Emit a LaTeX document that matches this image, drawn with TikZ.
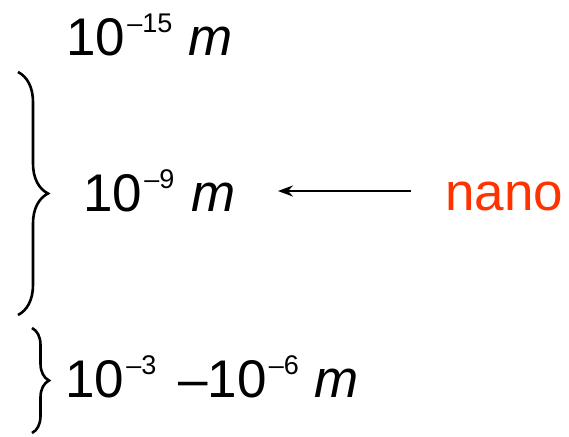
\documentclass[tikz,border=0pt]{standalone}
\usepackage{fontspec}
\setmainfont{Liberation Sans}
\usetikzlibrary{positioning,arrows.meta,decorations.pathreplacing}
\definecolor{nanored}{RGB}{255,51,0}
\newcommand{\pw}[1]{\raisebox{11.5pt}{\fontsize{13.5}{13.5}\selectfont #1}}

\begin{document}
\begin{tikzpicture}[x=0.5pt, y=-0.5pt,
  lbl/.style={inner sep=0pt, anchor=base west, font=\fontsize{26.5}{30}\selectfont},
  brc/.style={decorate, decoration={brace, amplitude=#1}, line width=1.3pt},
  arr/.style={-{Stealth[length=7.5pt, width=5.5pt]}, line width=1.3pt}
]
\useasboundingbox (0,0) rectangle (569,436);
% sizes
\node[lbl] (fifteen) at (66,55) {10\hspace{1pt}\pw{–15}\hspace{8pt}\textit{m}};
\node[lbl] (nine) at (83,211) {10\hspace{1pt}\pw{–9}\hspace{8.5pt}\textit{m}};
\node[lbl] (micro) at (65,397) {10\hspace{1pt}\pw{–3}\hspace{11pt}–10\hspace{1pt}\pw{–6}\hspace{8pt}\textit{m}};
\node[lbl, text=nanored] (nano) at (445,210) {nano};
% braces
\draw[brc=15pt] (18,72) -- (18,315);
\draw[brc=8.5pt] (32,328) -- (32,433);
\draw[arr, shorten <=17pt, shorten >=21pt] ([yshift=2.5pt]nano.west) -- ([yshift=2.5pt]nano.west -| nine.east);
\end{tikzpicture}
\end{document}
